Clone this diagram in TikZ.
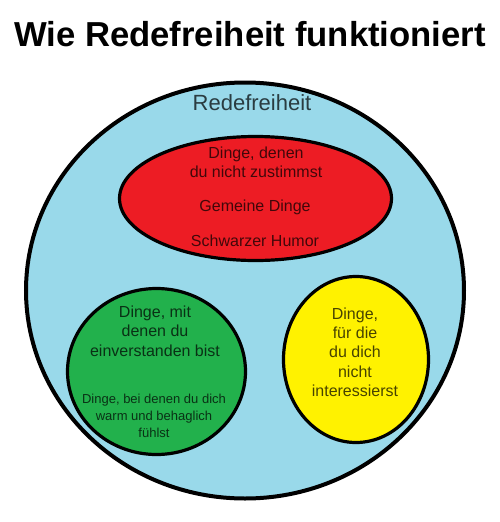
\documentclass[tikz,border=0pt]{standalone}
\usepackage{fontspec}
\setmainfont{Liberation Sans}
\usepackage{xcolor}
\definecolor{skyblue}{HTML}{99D9EA}
\definecolor{paintred}{HTML}{ED1C24}
\definecolor{paintgreen}{HTML}{22B14C}
\definecolor{paintyellow}{HTML}{FFF200}

\begin{document}
\begin{tikzpicture}[x=0.75pt,y=0.75pt]
    \useasboundingbox(0,0)rectangle(500,-522);
    %sizes of the texts, change as you like
    \def\bodysize{\fontsize{12}{14.5}\selectfont}
    \def\smallsize{\fontsize{9.75}{13}\selectfont}
    \tikzset{label/.style={align=center,inner sep=0pt,text=black,text opacity=0.72,font=\bodysize}}
    \filldraw[line width=3pt,fill=skyblue](245,-290.5)ellipse[x radius=219,y radius=208];
    \filldraw[line width=2.4pt,fill=paintred](255.5,-198.5)ellipse[x radius=136,y radius=62];
    \filldraw[line width=2.4pt,fill=paintgreen](156.5,-371.5)ellipse[x radius=89,y radius=83];
    \filldraw[line width=2.4pt,fill=paintyellow](356,-359.5)ellipse[x radius=72.5,y radius=83];
    \node[anchor=base,inner sep=0pt,font=\fontsize{26}{30}\selectfont\bfseries](title)at(250,-46){Wie Redefreiheit funktioniert};
    \node[label,anchor=base,font=\fontsize{16.5}{20}\selectfont](free)at(252,-110){Redefreiheit};
    \node[label](disagree)at(256,-162.5){Dinge, denen\\du nicht zustimmst};
    \node[label](mean)at(255,-207){Gemeine Dinge};
    \node[label](humor)at(255,-241){Schwarzer Humor};
    \node[label](agree)at(155,-331){Dinge, mit\\denen du\\einverstanden bist};
    \node[label,font=\smallsize](cosy)at(154,-416){Dinge, bei denen du dich\\warm und behaglich\\fühlst};
    \node[label](boring)at(355,-352){Dinge,\\für die\\du dich\\nicht\\interessierst};
\end{tikzpicture}
\end{document}
